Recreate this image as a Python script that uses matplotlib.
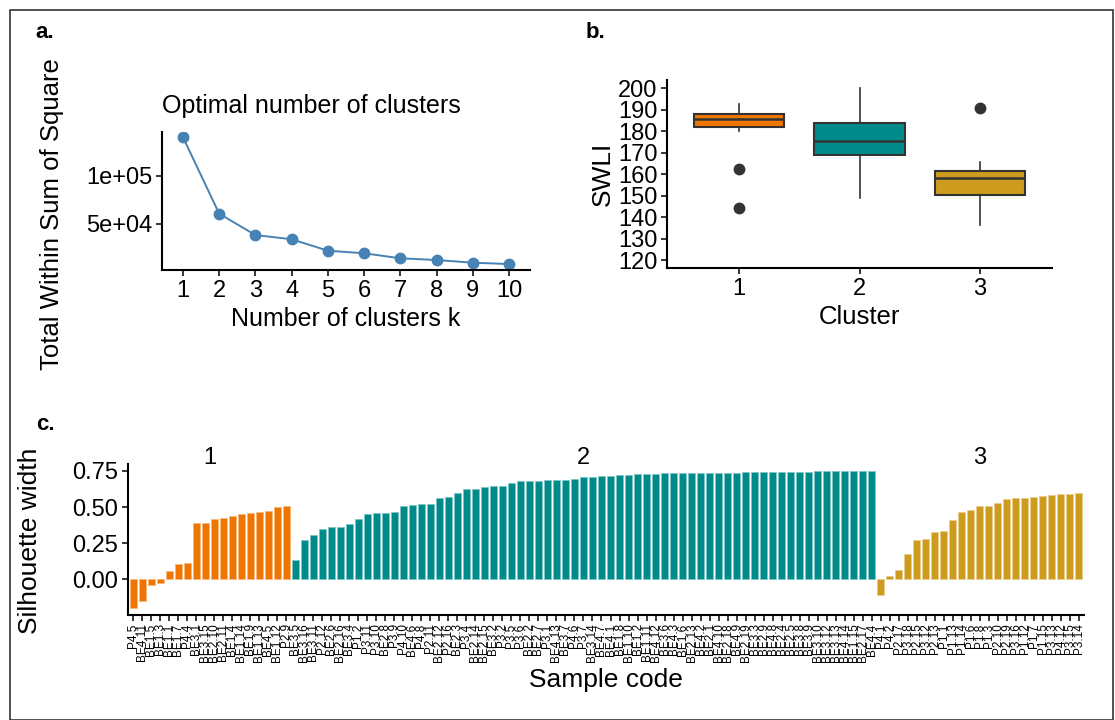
import matplotlib
matplotlib.use("Agg")
import matplotlib.pyplot as plt
from matplotlib.patches import Rectangle

plt.rcParams['font.family'] = ['Liberation Sans', 'DejaVu Sans']

# ---- data ----
k_values = [1, 2, 3, 4, 5, 6, 7, 8, 9, 10]
wss = [140300, 60700, 38500, 34100, 22200, 19500, 14300, 12500, 9700, 8300]

box_clusters = [1, 2, 3]
box_whislo = [180.3, 149.0, 136.2]
box_q1 = [182.1, 168.8, 150.4]
box_med = [185.6, 175.5, 158.1]
box_q3 = [187.9, 184.0, 161.3]
box_whishi = [192.7, 200.0, 165.8]
box_fliers = [[162.4, 144.2], [], [190.7]]

sil_c1 = [-0.200, -0.147, -0.039, -0.023, 0.060, 0.110, 0.115, 0.390, 0.390,
          0.417, 0.422, 0.438, 0.454, 0.459, 0.463, 0.475, 0.502, 0.507]
sil_c2 = [0.135, 0.273, 0.310, 0.349, 0.362, 0.362, 0.383, 0.415, 0.452, 0.456,
          0.459, 0.466, 0.505, 0.514, 0.518, 0.523, 0.564, 0.569, 0.599, 0.624,
          0.624, 0.642, 0.649, 0.649, 0.667, 0.681, 0.681, 0.683, 0.686, 0.688,
          0.690, 0.693, 0.706, 0.711, 0.716, 0.718, 0.720, 0.725, 0.727, 0.727,
          0.729, 0.734, 0.734, 0.736, 0.736, 0.736, 0.736, 0.736, 0.739, 0.739,
          0.741, 0.741, 0.741, 0.741, 0.743, 0.743, 0.745, 0.745, 0.748, 0.748,
          0.748, 0.748, 0.748, 0.750, 0.752]
sil_c3 = [-0.110, 0.023, 0.062, 0.177, 0.275, 0.280, 0.328, 0.333, 0.411, 0.463,
          0.482, 0.511, 0.511, 0.530, 0.557, 0.562, 0.562, 0.571, 0.578, 0.587,
          0.589, 0.594, 0.599]

codes_c1 = ["P4.5", "BE4.11", "BE1.5", "BE1.3", "BE1.1", "BE1.7", "P4.4", "BE3.1",
            "BE3.15", "BE2.10", "BE2.11", "BE1.4", "BE1.14", "BE1.9", "BE1.13",
            "BE4.5", "BE1.12", "P2.9"]
codes_c2 = ["BE3.5", "BE3.16", "BE3.11", "P2.12", "BE2.6", "BE2.16", "BE3.4", "P1.2",
            "P3.11", "P3.10", "BE2.8", "P3.9", "P4.10", "BE4.6", "P4.8", "P2.11",
            "BE2.12", "P2.16", "BE2.3", "P3.4", "BE2.14", "BE2.15", "BE3.2", "P3.2",
            "P3.5", "P3.6", "BE2.2", "BE2.7", "P3.1", "BE4.13", "BE3.7", "P4.6",
            "P3.7", "BE3.14", "BE4.7", "BE4.1", "BE1.8", "BE1.10", "BE1.2", "BE1.11",
            "BE4.12", "BE3.6", "BE4.3", "BE1.6", "BE2.13", "BE4.2", "BE2.1", "BE4.10",
            "BE2.18", "BE4.9", "BE2.19", "BE3.3", "BE2.9", "BE4.8", "BE2.4", "BE2.5",
            "BE3.8", "BE3.9", "BE3.10", "BE3.12", "BE3.13", "BE4.14", "BE1.15",
            "BE2.17", "BE4.4"]
codes_c3 = ["P4.1", "P4.2", "P2.17", "P3.18", "P2.15", "P3.12", "P2.13", "P1.1",
            "P1.13", "P1.14", "P1.6", "P1.8", "P1.3", "P2.10", "P2.19", "P3.16",
            "P1.12", "P1.7", "P1.15", "P3.13", "P4.12", "P3.15", "P3.14"]

cluster_colors = ["#EE7600", "#008B8B", "#CD9B1D"]
edge_colors = ["#F7B97A", "#7FC4C4", "#E8CD8E"]

W, H = 1115, 720
fig = plt.figure(figsize=(W / 100, H / 100), dpi=100)


def px_axes(l, t, r, b):
    return fig.add_axes([l / W, 1 - b / H, (r - l) / W, (b - t) / H])


def classic(ax, size=17):
    for s in ["top", "right"]:
        ax.spines[s].set_visible(False)
    for s in ["left", "bottom"]:
        ax.spines[s].set_linewidth(1.5)
        ax.spines[s].set_color("black")
    ax.tick_params(length=4, width=1.1, labelsize=size, colors="black", pad=3)


# frame round the whole figure
fig.patches.append(Rectangle((10 / W, 0.5 / H), (1103 / W), (709.5 / H),
                             transform=fig.transFigure, fill=False,
                             edgecolor="#333333", linewidth=1.2))

# ---- a. elbow plot ----
ax_a = px_axes(162, 132, 530, 270)
classic(ax_a)
ax_a.plot(k_values, wss, color="#4682B4", lw=1.4, marker="o", ms=7.5)
ax_a.set_xlim(0.42, 10.58)
ax_a.set_ylim(2100, 145800)
ax_a.set_xticks(k_values)
ax_a.set_yticks([50000, 100000])
ax_a.set_yticklabels(["5e+04", "1e+05"])
ax_a.set_xlabel("Number of clusters k", fontsize=18)
ax_a.set_title("Optimal number of clusters", fontsize=18, loc="left", pad=14)
fig.text(52 / W, 1 - 214 / H, "Total Within Sum of Square", rotation=90,
         fontsize=18.5, ha="center", va="center")

# ---- b. SWLI boxplots ----
ax_b = px_axes(667, 80, 1052, 268)
classic(ax_b)
stats = []
for i in range(3):
    stats.append(dict(med=box_med[i], q1=box_q1[i], q3=box_q3[i],
                      whislo=box_whislo[i], whishi=box_whishi[i],
                      fliers=box_fliers[i]))
bp = ax_b.bxp(stats, positions=box_clusters, widths=0.75, patch_artist=True,
              showcaps=False,
              boxprops=dict(edgecolor="#333333", linewidth=1.5),
              medianprops=dict(color="#333333", linewidth=1.8),
              whiskerprops=dict(color="#333333", linewidth=1.2),
              flierprops=dict(marker="o", markerfacecolor="#333333",
                              markeredgecolor="#333333", markersize=7.5))
for patch, c in zip(bp["boxes"], cluster_colors):
    patch.set_facecolor(c)
ax_b.set_xlim(0.4, 3.6)
ax_b.set_ylim(116.3, 203.9)
ax_b.set_yticks(range(120, 201, 10))
ax_b.set_xticks(box_clusters)
ax_b.set_xlabel("Cluster", fontsize=18.5)
ax_b.set_ylabel("SWLI", fontsize=19, labelpad=2)

# ---- c. silhouette widths ----
ax_c = px_axes(128, 464, 1084, 615)
classic(ax_c)
groups = [(sil_c1, codes_c1), (sil_c2, codes_c2), (sil_c3, codes_c3)]
all_codes = []
start = 1
for gi, (vals, codes) in enumerate(groups):
    xs = list(range(start, start + len(vals)))
    ax_c.bar(xs, vals, width=0.72, color=cluster_colors[gi],
             edgecolor=edge_colors[gi], linewidth=0.5)
    ax_c.text((xs[0] + xs[-1]) / 2, 0.84, str(gi + 1), fontsize=17,
              ha="center", va="center", clip_on=False)
    all_codes += codes
    start += len(vals)
ax_c.set_xlim(0.4, len(all_codes) + 0.6)
ax_c.set_ylim(-0.246, 0.798)
ax_c.set_yticks([0.0, 0.25, 0.5, 0.75])
ax_c.set_yticklabels(["0.00", "0.25", "0.50", "0.75"])
ax_c.set_xticks(range(1, len(all_codes) + 1))
ax_c.set_xticklabels(all_codes, rotation=90, fontsize=8.5, ha="center", va="top")
ax_c.tick_params(axis="x", labelsize=8.5, pad=2)
ax_c.set_xlabel("Sample code", fontsize=19)
fig.text(30 / W, 1 - 541 / H, "Silhouette width", rotation=90,
         fontsize=19, ha="center", va="center")

# panel letters
fig.text(45 / W, 1 - 32 / H, "a.", fontsize=16, fontweight="bold", ha="center", va="center")
fig.text(595 / W, 1 - 32 / H, "b.", fontsize=16, fontweight="bold", ha="center", va="center")
fig.text(45 / W, 1 - 425 / H, "c.", fontsize=16, fontweight="bold", ha="center", va="center")

fig.savefig("out.png", dpi=100)
